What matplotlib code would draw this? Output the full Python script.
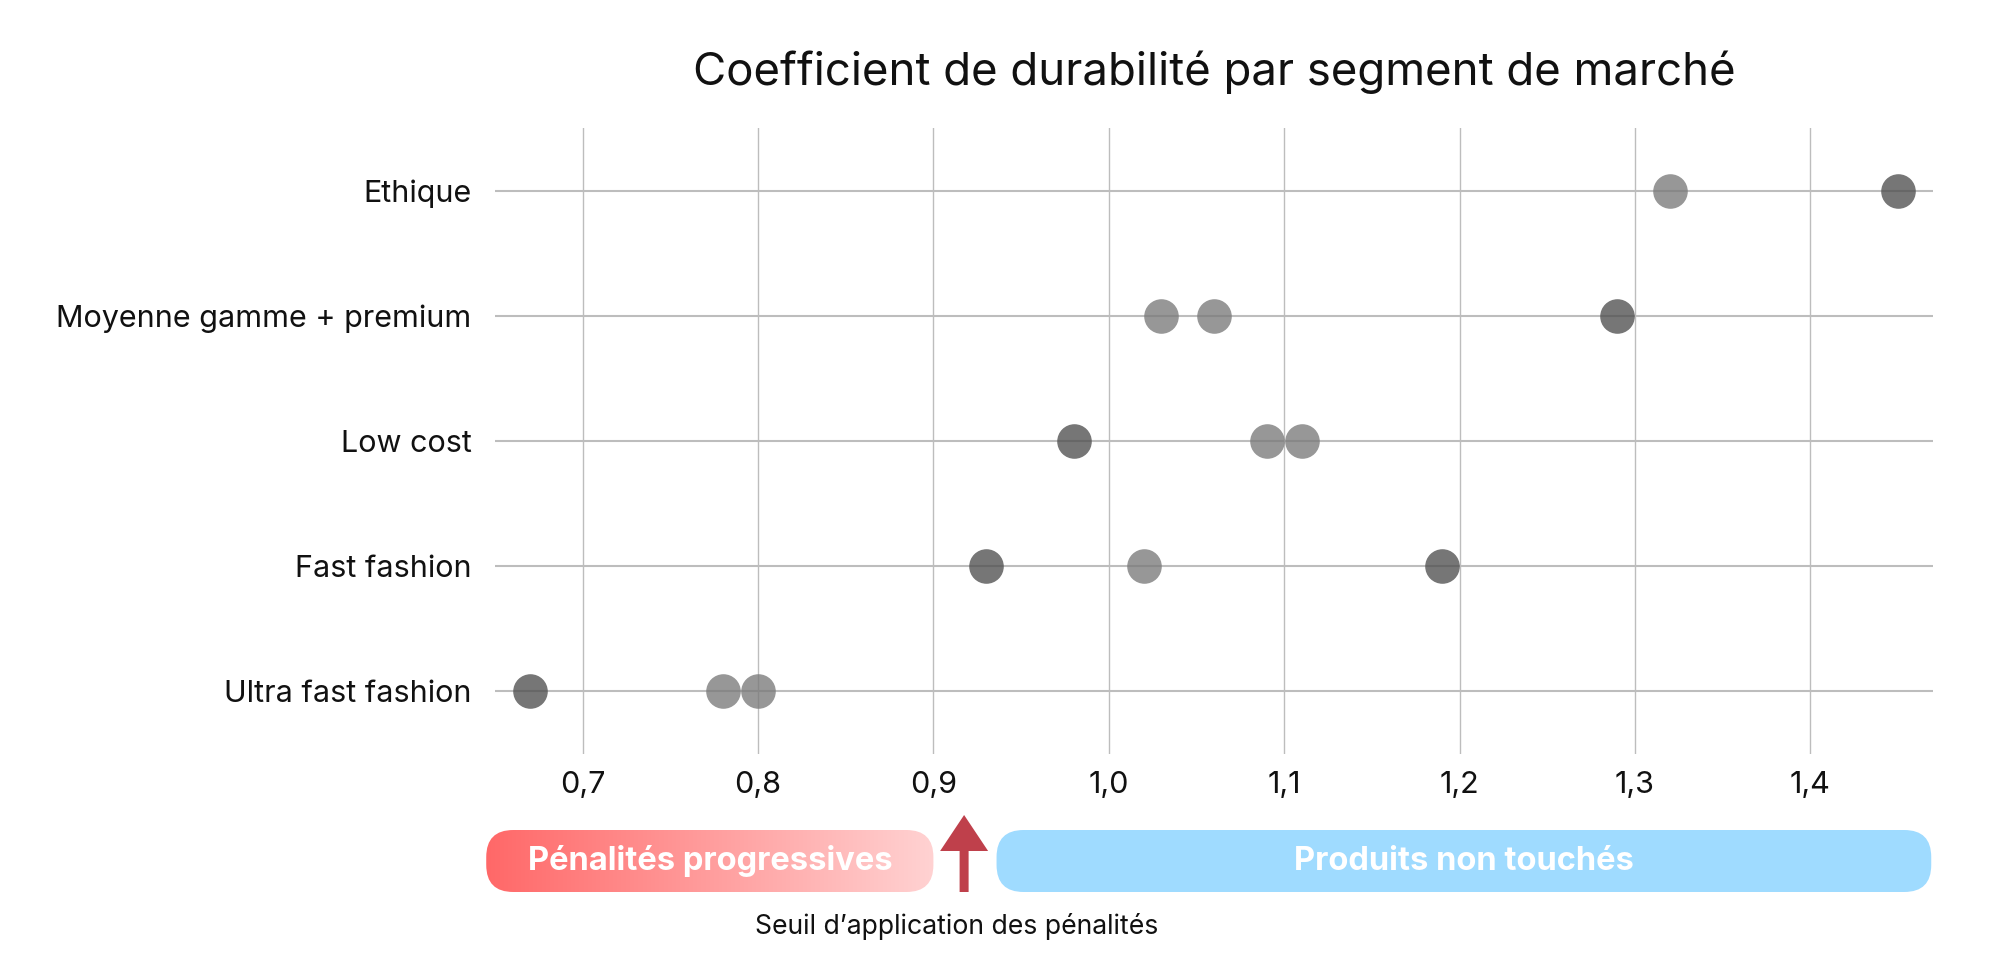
import numpy as np
import matplotlib
matplotlib.use("Agg")
import matplotlib.pyplot as plt
from matplotlib.patches import FancyBboxPatch, FancyArrow

plt.rcParams['font.family'] = ['Inter', 'DejaVu Sans']

# ---- data ----
categories = ["Ultra fast fashion", "Fast fashion", "Low cost",
              "Moyenne gamme + premium", "Ethique"]
dark_cat = ["Ultra fast fashion", "Fast fashion", "Fast fashion", "Low cost",
            "Moyenne gamme + premium", "Ethique"]
dark_val = [0.67, 0.93, 1.19, 0.98, 1.29, 1.45]
light_cat = ["Ultra fast fashion", "Ultra fast fashion", "Fast fashion",
             "Low cost", "Low cost", "Moyenne gamme + premium",
             "Moyenne gamme + premium", "Ethique"]
light_val = [0.78, 0.80, 1.02, 1.09, 1.11, 1.03, 1.06, 1.32]
xticks = [0.7, 0.8, 0.9, 1.0, 1.1, 1.2, 1.3, 1.4]
xtick_labels = ["0,7", "0,8", "0,9", "1,0", "1,1", "1,2", "1,3", "1,4"]
threshold = 0.9175
penalty_range = (0.645, 0.90)
safe_range = (0.936, 1.469)
title = "Coefficient de durabilité par segment de marché"
penalty_label = "Pénalités progressives"
safe_label = "Produits non touchés"
threshold_label = "Seuil d\u2019application des pénalités"

W, H = 1994, 958
fig = plt.figure(figsize=(W / 100, H / 100), dpi=100)
ax = fig.add_axes([495 / W, (H - 754) / H, (1933 - 495) / W, (754 - 128) / H])

ypos = {c: i for i, c in enumerate(categories)}
ax.scatter(light_val, [ypos[c] for c in light_cat], s=620, color="#7a7a7a",
           alpha=0.78, linewidths=0, zorder=3)
ax.scatter(dark_val, [ypos[c] for c in dark_cat], s=620, color="#4f4f4f",
           alpha=0.78, linewidths=0, zorder=4)

ax.set_xlim(0.65, 1.47)
ax.set_ylim(-0.5, 4.5)
ax.set_xticks(xticks)
ax.set_xticklabels(xtick_labels)
ax.set_yticks(range(len(categories)))
ax.set_yticklabels(categories)
ax.tick_params(axis='both', length=0, labelsize=22, colors="#111111")
ax.tick_params(axis='x', pad=12)
ax.tick_params(axis='y', pad=17)
ax.grid(axis='x', color="#bdbdbd", linewidth=1.0)
ax.grid(axis='y', color="#bdbdbd", linewidth=1.5)
ax.set_axisbelow(True)
for s in ax.spines.values():
    s.set_visible(False)

fig.text(1214 / W, 1 - 72 / H, title, ha='center', va='center',
         fontsize=32.8, color="#111111")

# ---- legend overlay in pixel coords ----
fig.canvas.draw()
ov = fig.add_axes([0, 0, 1, 1], zorder=5)
ov.set_xlim(0, W)
ov.set_ylim(0, H)
ov.axis('off')

def xpix(v):
    return ax.transData.transform((v, 0))[0]

y0, y1 = H - 892, H - 830
r = 27
# penalty box with gradient
px0, px1 = xpix(penalty_range[0]), xpix(penalty_range[1])
pbox = FancyBboxPatch((px0, y0), px1 - px0, y1 - y0,
                      boxstyle=f"round,pad=0,rounding_size={r}",
                      facecolor='none', edgecolor='none')
ov.add_patch(pbox)
grad = np.linspace(0, 1, 256)
c0 = np.array([255, 104, 104]) / 255
c1 = np.array([255, 210, 210]) / 255
img = (c0[None, :] * (1 - grad[:, None]) + c1[None, :] * grad[:, None])[None, :, :]
im = ov.imshow(img, extent=(px0, px1, y0, y1), aspect='auto', zorder=1)
im.set_clip_path(pbox)
ov.text((px0 + px1) / 2, (y0 + y1) / 2, penalty_label, ha='center', va='center',
        fontsize=23.5, fontweight='bold', color='white', zorder=3)

sx0, sx1 = xpix(safe_range[0]), xpix(safe_range[1])
sbox = FancyBboxPatch((sx0, y0), sx1 - sx0, y1 - y0,
                      boxstyle=f"round,pad=0,rounding_size={r}",
                      facecolor='#9fdbff', edgecolor='none', zorder=1)
ov.add_patch(sbox)
ov.text((sx0 + sx1) / 2, (y0 + y1) / 2, safe_label, ha='center', va='center',
        fontsize=23.5, fontweight='bold', color='white', zorder=3)

tx = xpix(threshold)
arrow = FancyArrow(tx, H - 892, 0, 892 - 815, width=9, head_width=48,
                   head_length=36, length_includes_head=True,
                   color='#bf404b', linewidth=0, zorder=2)
ov.add_patch(arrow)
ov.text(957, H - 926, threshold_label, ha='center', va='center',
        fontsize=19.2, color="#111111")

fig.savefig("out.png", dpi=100)
